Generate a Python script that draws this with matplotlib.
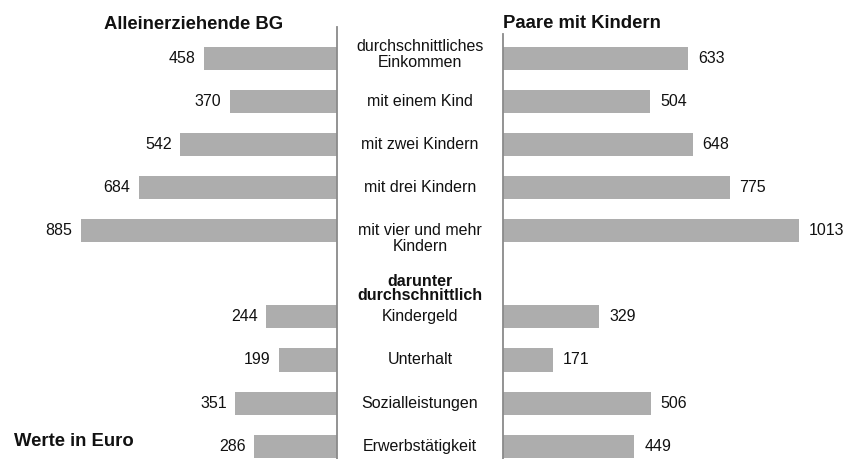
import matplotlib.pyplot as plt
import numpy as np

plt.rcParams['font.family'] = ['Liberation Sans', 'DejaVu Sans']

categories = ["durchschnittliches\nEinkommen", "mit einem Kind", "mit zwei Kindern",
              "mit drei Kindern", "mit vier und mehr\nKindern", "",
              "Kindergeld", "Unterhalt", "Sozialleistungen", "Erwerbstätigkeit"]
allein = [458, 370, 542, 684, 885, None, 244, 199, 351, 286]
paare = [633, 504, 648, 775, 1013, None, 329, 171, 506, 449]
title_left = "Alleinerziehende BG"
title_right = "Paare mit Kindern"
sub_header = "darunter\ndurchschnittlich"
note = "Werte in Euro"

W, H = 844, 459
bar_col = "#adadad"
line_col = "#8a8a8a"

# pixel layout
row0, row_step = 58.3, 43.1
def k_of(px):
    return (px - row0) / row_step

fig = plt.figure(figsize=(W / 100, H / 100), dpi=100)

def add_axes(x0, x1, ytop):
    return fig.add_axes([x0 / W, 0, (x1 - x0) / W, (H - ytop) / H])

ax_l = add_axes(336.5 - 1000 * 0.289, 336.5, 27)
ax_r = add_axes(503.3, 503.3 + 1100 * 0.292, 34)
ax_l.set_xlim(1000, 0)
ax_r.set_xlim(0, 1100)
ax_l.set_ylim(k_of(459), k_of(27))
ax_r.set_ylim(k_of(459), k_of(34))

for ax, vals, side in [(ax_l, allein, "l"), (ax_r, paare, "r")]:
    idx = [i for i, v in enumerate(vals) if v is not None]
    v = [vals[i] for i in idx]
    ax.barh(idx, v, height=0.535, color=bar_col, edgecolor="none")
    for i, val in zip(idx, v):
        if side == "l":
            ax.annotate(str(val), (val, i), xytext=(-6, 0), textcoords="offset points",
                        ha="right", va="center", fontsize=11.5, color="#111111")
        else:
            ax.annotate(str(val), (val, i), xytext=(7, 0), textcoords="offset points",
                        ha="left", va="center", fontsize=11.5, color="#111111")
    for s in ax.spines.values():
        s.set_visible(False)
    ax.set_xticks([])
    ax.set_yticks([])
    ax.patch.set_visible(False)

ax_l.spines["right"].set_visible(True)
ax_l.spines["right"].set_color(line_col)
ax_l.spines["right"].set_linewidth(1.3)
ax_r.spines["left"].set_visible(True)
ax_r.spines["left"].set_color(line_col)
ax_r.spines["left"].set_linewidth(1.3)

# centre labels (vertical nudges in pixels)
nudge = {0: 4, 4: -8}
for i, lab in enumerate(categories):
    if not lab:
        continue
    ax_l.annotate(lab, (0, i), xytext=(420 - 336.5, nudge.get(i, 0)),
                  textcoords="offset pixels", ha="center", va="center",
                  fontsize=11.5, color="#111111", multialignment="center", linespacing=1.1,
                  annotation_clip=False)
ax_l.annotate(sub_header, (0, 5), xytext=(420 - 336.5, -15), textcoords="offset pixels",
              ha="center", va="center", fontsize=11.5, fontweight="bold",
              color="#111111", multialignment="center", linespacing=0.95, annotation_clip=False)

fig.text(283 / W, 1 - 29 / H, title_left, ha="right", va="baseline",
         fontsize=13.3, fontweight="bold", color="#111111")
fig.text(503 / W, 1 - 28 / H, title_right, ha="left", va="baseline",
         fontsize=13.3, fontweight="bold", color="#111111")
fig.text(14 / W, 1 - 446 / H, note, ha="left", va="baseline",
         fontsize=13.3, fontweight="bold", color="#111111")

fig.savefig("out.png", dpi=100)
